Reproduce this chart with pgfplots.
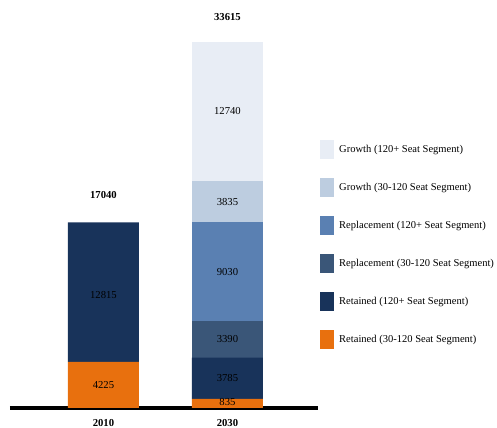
\documentclass[border=0pt]{standalone}
\usepackage{pgfplots}
\pgfplotsset{compat=1.18}
\usepackage{fontspec}
\setmainfont{Liberation Serif}
\definecolor{cOrange}{HTML}{E8700E}
\definecolor{cNavy}{HTML}{18335A}
\definecolor{cRep}{HTML}{3A5678}
\definecolor{cRepB}{HTML}{5A80B2}
\definecolor{cGr}{HTML}{BDCDE0}
\definecolor{cGrB}{HTML}{E8EDF5}
\tikzset{lab/.style={font=\fontsize{8}{9}\selectfont}, blab/.style={font=\fontsize{8}{9}\selectfont\bfseries}}
\begin{document}
\begin{tikzpicture}
\useasboundingbox (-7.5pt,-15pt) rectangle (365.25pt,306pt);
\begin{axis}[
  scale only axis, width=231pt, height=306pt,
  xmin=-0.754, xmax=1.73, ymin=0, ymax=37466,
  ybar stacked, bar width=53.25pt,
  axis x line*=bottom, axis y line=none,
  axis line style={line width=3pt},
  xtick={0,1}, xticklabels={2010,2030},
  major tick length=0pt,
  xticklabel style={font=\fontsize{8}{9}\selectfont\bfseries, yshift=-4.8pt},
  legend cell align=left,
  reverse legend,
  legend style={at={(1.0,0.664)}, anchor=north west, xshift=1.1pt, draw=none, fill=none,
    font=\fontsize{7.9}{9}\selectfont, row sep=14.3pt, inner xsep=0pt},
  legend image code/.code={\fill[#1,draw=none] (0pt,-7.125pt) rectangle (10.5pt,7.125pt); \path (12.6pt,0pt);},
]
\addplot[fill=cOrange, draw=none] coordinates {(0,4225) (1,835)};
\addlegendentry{Retained (30-120 Seat Segment)}
\addplot[fill=cNavy, draw=none] coordinates {(0,12815) (1,3785)};
\addlegendentry{Retained (120+ Seat Segment)}
\addplot[fill=cRep, draw=none] coordinates {(0,0) (1,3390)};
\addlegendentry{Replacement (30-120 Seat Segment)}
\addplot[fill=cRepB, draw=none] coordinates {(0,0) (1,9030)};
\addlegendentry{Replacement (120+ Seat Segment)}
\addplot[fill=cGr, draw=none] coordinates {(0,0) (1,3835)};
\addlegendentry{Growth (30-120 Seat Segment)}
\addplot[fill=cGrB, draw=none] coordinates {(0,0) (1,12740)};
\addlegendentry{Growth (120+ Seat Segment)}
\coordinate (l1) at (axis cs:0,2112.5);
\coordinate (l2) at (axis cs:0,10400);
\coordinate (l3) at (axis cs:1,560);
\coordinate (l4) at (axis cs:1,2727.5);
\coordinate (l5) at (axis cs:1,6315);
\coordinate (l6) at (axis cs:1,12525);
\coordinate (l7) at (axis cs:1,18957.5);
\coordinate (l8) at (axis cs:1,27245);
\coordinate (t1) at (axis cs:0,19560);
\coordinate (t2) at (axis cs:1,35900);
\end{axis}
\node[lab] at (l1) {4225};
\node[lab] at (l2) {12815};
\node[lab] at (l3) {835};
\node[lab] at (l4) {3785};
\node[lab] at (l5) {3390};
\node[lab] at (l6) {9030};
\node[lab] at (l7) {3835};
\node[lab] at (l8) {12740};
\node[blab] at (t1) {17040};
\node[blab] at (t2) {33615};
\end{tikzpicture}
\end{document}
